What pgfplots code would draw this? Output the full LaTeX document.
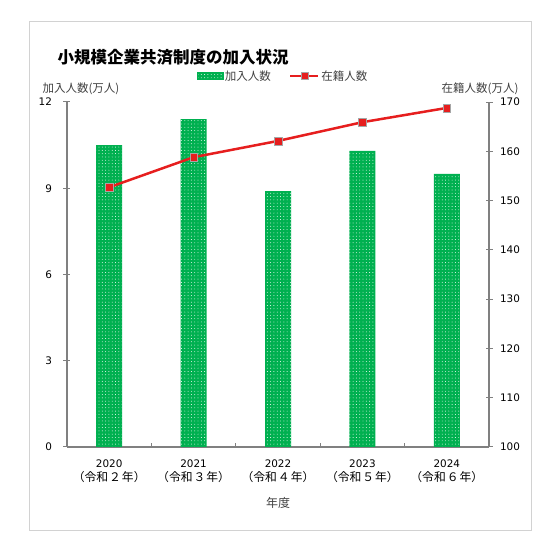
\documentclass[border=0pt]{standalone}
\usepackage{fontspec}
\setmainfont{DejaVu Sans}
\newfontfamily\jp{Noto Sans CJK JP}
\usepackage{pgfplots}
\pgfplotsset{compat=1.18}
\usetikzlibrary{patterns.meta}

\definecolor{bargreen}{RGB}{0,176,80}
\definecolor{linered}{RGB}{230,30,30}
\definecolor{axisgray}{RGB}{128,128,128}
\definecolor{txt}{RGB}{64,64,64}

\newcommand{\yl}[2]{#1\\[0pt]{\jp\fontsize{11.8}{16}\selectfont （令和\hspace{1pt}#2\hspace{1pt}年）}}

\pgfplotsset{
  base/.style={
    scale only axis, width=422pt, height=345pt,
    at={(0pt,0pt)}, anchor=south west,
    xmin=-0.5, xmax=4.5,
    axis line style={axisgray, line width=1.2pt},
    tick style={axisgray, line width=1pt},
    /pgf/number format/assume math mode=true,
    tick label style={font=\fontsize{10.4}{14}\selectfont, text=black},
  },
}

\begin{document}
\begin{tikzpicture}
\path[use as bounding box] (-67pt,-106pt) rectangle (484pt,447pt);
\draw[gray!35, line width=0.8pt] (-38pt,-83pt) rectangle (464pt,426pt);

\begin{axis}[base,
  axis x line*=bottom, axis y line*=left,
  ymin=0, ymax=12, ytick={0,3,6,9,12},
  ytick align=center, major tick length=7pt,
  yticklabel style={xshift=-8pt},
  xtick={0,1,2,3,4},
  xticklabels={{\yl{2020}{２}},{\yl{2021}{３}},{\yl{2022}{４}},{\yl{2023}{５}},{\yl{2024}{６}}},
  x tick label style={align=center, yshift=-9pt, text=black},
  major x tick style={draw=none},
  minor xtick={0.5,1.5,2.5,3.5},
  xtick align=inside, minor tick length=4pt,
  ylabel={\jp 加入人数(万人)},
  every axis y label/.style={at={(rel axis cs:0,1)}, anchor=west,
    xshift=-28pt, yshift=13pt, font=\fontsize{11.5}{13}\selectfont, text=txt},
  xlabel={\jp 年度},
  every axis x label/.style={at={(rel axis cs:0.5,0)}, anchor=center,
    yshift=-56pt, font=\fontsize{12}{13}\selectfont, text=txt},
]
\addplot[ybar, bar width=26pt, fill=bargreen, draw=none,
  postaction={pattern={Dots[distance=3.3pt, radius=0.45pt]}, pattern color=white}]
  coordinates {(0,10.5) (1,11.4) (2,8.9) (3,10.3) (4,9.5)};
\end{axis}

\begin{axis}[base,
  axis x line=none, axis y line*=right,
  ymin=100, ymax=170, ytick={100,110,...,170},
  ytick align=center, major tick length=7pt,
  yticklabel style={xshift=4pt},
  ylabel={\jp 在籍人数(万人)},
  every axis y label/.style={at={(rel axis cs:1,1)}, anchor=east,
    xshift=33pt, yshift=13pt, font=\fontsize{11.5}{13}\selectfont, text=txt},
  legend style={at={(0.5,1)}, anchor=center, yshift=26pt, xshift=5pt,
    draw=none, fill=none, legend columns=2,
    font=\jp\fontsize{11.5}{13}\selectfont, text=txt,
    /tikz/every even column/.append style={column sep=16pt}},
]
\addlegendimage{legend image code/.code={
  \fill[bargreen, postaction={pattern={Dots[distance=3.3pt, radius=0.45pt]}, pattern color=white}]
    (0pt,-3.5pt) rectangle (26pt,3.5pt);}}
\addlegendentry{加入人数}
\addplot[linered, line width=2.5pt, mark=square*,
  mark options={fill=linered, draw=gray!70, line width=0.4pt}, mark size=3.8pt,
  legend image code/.code={
    \draw[linered, line width=2.5pt] (0pt,0pt) -- (28pt,0pt);
    \draw[fill=linered, draw=gray!70, line width=0.4pt] (10.5pt,-3.6pt) rectangle (17.5pt,3.6pt);}]
  coordinates {(0,152.7) (1,158.8) (2,162.1) (3,165.9) (4,168.8)};
\addlegendentry{在籍人数}
\end{axis}

\node[anchor=west, font=\jp\bfseries\fontsize{16.5}{18}\selectfont] at (-13pt,390pt)
  {小規模企業共済制度の加入状況};
\end{tikzpicture}
\end{document}
